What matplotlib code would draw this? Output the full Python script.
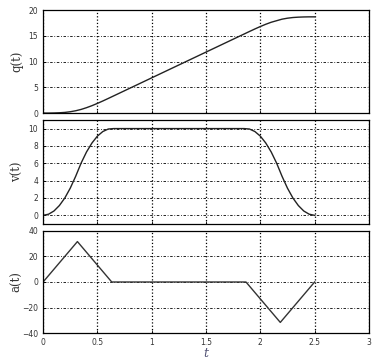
import numpy as np
import matplotlib
matplotlib.use('Agg')
import matplotlib.pyplot as plt

# time samples for q(t), v(t)
t = [0.00, 0.05, 0.10, 0.15, 0.20, 0.25, 0.30, 0.35, 0.40, 0.45,
     0.50, 0.55, 0.60, 0.65, 0.70, 0.75, 0.80, 0.85, 0.90, 0.95,
     1.00, 1.05, 1.10, 1.15, 1.20, 1.25, 1.30, 1.35, 1.40, 1.45,
     1.50, 1.55, 1.60, 1.65, 1.70, 1.75, 1.80, 1.85, 1.90, 1.95,
     2.00, 2.05, 2.10, 2.15, 2.20, 2.25, 2.30, 2.35, 2.40, 2.45, 2.50]

q = [0.00, 0.00, 0.02, 0.06, 0.13, 0.26, 0.45, 0.71, 1.05, 1.44,
     1.88, 2.35, 2.84, 3.34, 3.84, 4.34, 4.84, 5.34, 5.84, 6.34,
     6.84, 7.34, 7.84, 8.34, 8.84, 9.34, 9.84, 10.34, 10.84, 11.34,
     11.84, 12.34, 12.84, 13.34, 13.84, 14.34, 14.84, 15.34, 15.84, 16.33,
     16.80, 17.24, 17.63, 17.93, 18.23, 18.42, 18.55, 18.62, 18.66, 18.68, 18.68]

v = [0.00, 0.13, 0.50, 1.13, 2.00, 3.13, 4.50, 6.02, 7.31, 8.34,
     9.13, 9.66, 9.95, 10.0, 10.0, 10.0, 10.0, 10.0, 10.0, 10.0,
     10.0, 10.0, 10.0, 10.0, 10.0, 10.0, 10.0, 10.0, 10.0, 10.0,
     10.0, 10.0, 10.0, 10.0, 10.0, 10.0, 10.0, 10.0, 9.95, 9.66,
     9.13, 8.34, 7.31, 6.02, 4.50, 3.13, 2.00, 1.13, 0.50, 0.13, 0.00]

# acceleration breakpoints
t_a = [0.0, 0.316, 0.632, 1.868, 2.184, 2.5]
a = [0.0, 31.6, 0.0, 0.0, -31.6, 0.0]

fig = plt.figure(figsize=(3.78, 3.59), dpi=100)
ax1 = fig.add_axes([0.114, 0.685, 0.862, 0.287])
ax2 = fig.add_axes([0.114, 0.376, 0.862, 0.290])
ax3 = fig.add_axes([0.114, 0.072, 0.862, 0.285])

ax1.plot(t, q, color='#222222', lw=1.0)
ax2.plot(t, v, color='#222222', lw=1.0)
ax3.plot(t_a, a, color='#333333', lw=1.0)

ax1.set_ylim(0, 20)
ax1.set_yticks([0, 5, 10, 15, 20])
ax2.set_ylim(-1, 11)
ax2.set_yticks([0, 2, 4, 6, 8, 10])
ax3.set_ylim(-40, 40)
ax3.set_yticks([-40, -20, 0, 20, 40])

for ax in (ax1, ax2, ax3):
    ax.set_xlim(0, 3)
    ax.set_xticks([0, 0.5, 1, 1.5, 2, 2.5, 3])
    ax.xaxis.grid(True, color='black', linestyle=':', lw=0.9)
    ax.yaxis.grid(True, color='black', linestyle=(0, (3, 2, 1, 2)), lw=0.6)
    ax.tick_params(direction='in', labelsize=5.5, length=2, width=0.6, colors='black',
                   labelcolor='#333333')
    for s in ax.spines.values():
        s.set_linewidth(0.9)
ax1.tick_params(labelbottom=False)
ax2.tick_params(labelbottom=False)
ax3.set_xticklabels(['0', '0.5', '1', '1.5', '2', '2.5', '3'])

lab = dict(fontsize=8.5, family='DejaVu Serif', color='#333333')
ax1.set_ylabel('q(t)', **lab)
ax2.set_ylabel('v(t)', **lab)
ax3.set_ylabel('a(t)', **lab)
for ax in (ax1, ax2, ax3):
    ax.yaxis.set_label_coords(-0.06, 0.5)
ax3.set_xlabel('t', fontsize=9, family='DejaVu Serif', style='italic', color='#555577', labelpad=0)

fig.savefig('out.png', dpi=100)
